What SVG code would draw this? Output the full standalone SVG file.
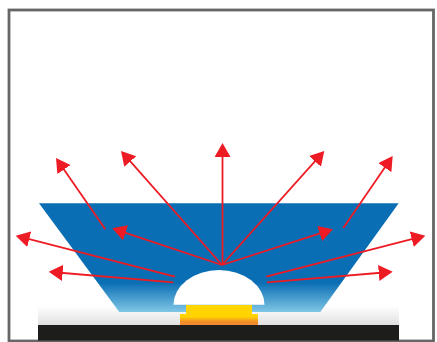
<svg xmlns="http://www.w3.org/2000/svg" width="437" height="342" viewBox="0 0 437 342">
<style>
.ray{fill:none;stroke:#ed1c24;stroke-width:1.8;marker-end:url(#head)}
</style>
<defs>
<linearGradient id="blue" x1="0" y1="203" x2="0" y2="312" gradientUnits="userSpaceOnUse">
<stop offset="0" stop-color="#0a6eb4"/><stop offset="0.73" stop-color="#0a6eb4"/><stop offset="1" stop-color="#7fc6e5"/>
</linearGradient>
<linearGradient id="gray" x1="0" y1="306" x2="0" y2="325" gradientUnits="userSpaceOnUse">
<stop offset="0" stop-color="#ffffff"/><stop offset="1" stop-color="#e0e0e0"/>
</linearGradient>
<linearGradient id="chip" x1="0" y1="305" x2="0" y2="325" gradientUnits="userSpaceOnUse">
<stop offset="0" stop-color="#ffd400"/><stop offset="0.58" stop-color="#ffd400"/><stop offset="0.85" stop-color="#f08a2c"/><stop offset="1" stop-color="#f08a2c"/>
</linearGradient>
<marker id="head" markerUnits="userSpaceOnUse" markerWidth="17" markerHeight="17" refX="11" refY="8" orient="auto">
<path d="M0,0L14,8L0,16z" fill="#ed1c24"/>
</marker>
</defs>
<rect x="0" y="0" width="437" height="342" fill="#ffffff"/>
<g id="frame"><rect x="9" y="10" width="424.5" height="331" fill="none" stroke="#666666" stroke-width="2.8"/></g>
<g id="substrate"><rect x="38" y="306" width="361" height="19" fill="url(#gray)"/></g>
<g id="base"><rect x="38" y="325" width="361" height="15.5" fill="#1d1d1b"/></g>
<g id="lens"><path d="M39,203.3H398.7L320.3,312H119.3z" fill="url(#blue)"/></g>
<g id="chip-group">
<path d="M186,305H252V314H258V325H180V314H186z" fill="url(#chip)"/>
</g>
<g id="dome"><path d="M173.5,304.7A45.5,34.7 0 0 1 264.5,304.7z" fill="#ffffff"/></g>
<g id="connectors">
<path class="ray" d="M105.3,229.3L57.7,160.5"/>
<path class="ray" d="M222,265L123,153.2"/>
<path class="ray" d="M222.5,265V146"/>
<path class="ray" d="M222,265L322.3,153.2"/>
<path class="ray" d="M343.3,228L391,158.5"/>
<path class="ray" d="M222,265L115.1,229.3"/>
<path class="ray" d="M222,265L330.1,230.2"/>
<path class="ray" d="M175,276.7L18.6,236.4"/>
<path class="ray" d="M173.3,282.3L51.7,272"/>
<path class="ray" d="M266.3,276.7L422.4,236.4"/>
<path class="ray" d="M267,282.3L389.7,272"/>
</g>
</svg>
